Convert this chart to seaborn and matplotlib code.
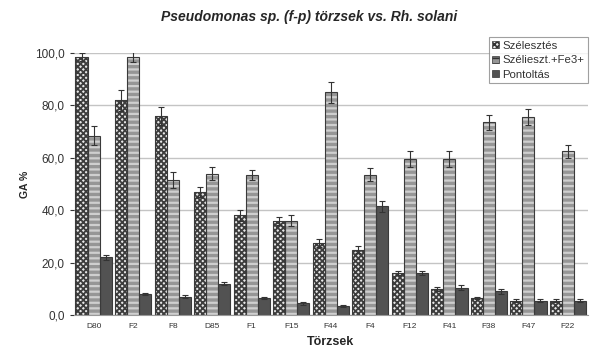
import matplotlib
matplotlib.use("Agg")
import matplotlib.pyplot as plt
from matplotlib.patches import Rectangle
from matplotlib.ticker import FuncFormatter
import seaborn as sns
import pandas as pd
import numpy as np

# Adatok (leolvasva az ábráról)
torzsek = ['D80', 'F2', 'F8', 'D85', 'F1', 'F15', 'F44', 'F4', 'F12', 'F41', 'F38', 'F47', 'F22']
sorozatok = ['Szélesztés', 'Szélieszt.+Fe3+', 'Pontoltás']
szelesztes = [98.5, 82.0, 76.0, 47.0, 38.0, 36.0, 27.5, 25.0, 16.0, 10.0, 6.5, 5.5, 5.5]
szelesztes_fe = [68.5, 98.5, 51.5, 54.0, 53.5, 36.0, 85.0, 53.5, 59.5, 59.5, 73.5, 75.5, 62.5]
pontoltas = [22.0, 8.0, 7.0, 12.0, 6.5, 4.5, 3.5, 41.5, 16.0, 10.5, 9.0, 5.5, 5.5]
hiba_sz = [1.5, 4.0, 3.5, 2.0, 2.0, 1.5, 1.5, 1.5, 0.8, 0.8, 0.5, 0.5, 0.5]
hiba_fe = [3.5, 2.0, 3.0, 2.5, 2.0, 2.0, 4.0, 2.5, 3.0, 3.0, 3.0, 3.0, 2.5]
hiba_po = [1.0, 0.5, 0.5, 0.5, 0.5, 0.5, 0.3, 2.0, 0.8, 0.8, 0.8, 0.5, 0.5]

df = pd.DataFrame({
    'torzs': torzsek * 3,
    'sorozat': np.repeat(sorozatok, len(torzsek)),
    'ertek': szelesztes + szelesztes_fe + pontoltas,
})

sns.set_style("white")
plt.rcParams['font.family'] = ['Liberation Sans', 'DejaVu Sans']
plt.rcParams['hatch.linewidth'] = 1.2

fig = plt.figure(figsize=(5.96, 3.63), dpi=100)
ax = fig.add_axes([0.124, 0.132, 0.862, 0.722])

ax.yaxis.grid(True, color='#c4c4c4', linewidth=1.0)
ax.set_axisbelow(True)

sns.barplot(data=df, x='torzs', y='ertek', hue='sorozat', order=torzsek,
            hue_order=sorozatok, width=0.92, gap=0, errorbar=None, ax=ax,
            palette=['#e8e8e8', '#969696', '#525252'], saturation=1)

# Mintázat és körvonal
stilus = [dict(hatch='xxxxxx', ec='#3c3c3c', lw=1.3),
          dict(hatch='---', ec='#cfcfcf', lw=1.6),
          dict(hatch=None, ec='#333333', lw=1.0)]
oszlopok = list(ax.containers)
for i, cont in enumerate(oszlopok):
    hibak = [hiba_sz, hiba_fe, hiba_po][i]
    for j, p in enumerate(cont.patches):
        p.set_hatch(stilus[i]['hatch'])
        p.set_edgecolor(stilus[i]['ec'])
        p.set_linewidth(0)
        if hasattr(p, 'set_hatch_linewidth'):
            p.set_hatch_linewidth(stilus[i]['lw'])
        ax.add_patch(Rectangle(p.get_xy(), p.get_width(), p.get_height(), fill=False,
                               edgecolor='#3a3a3a', linewidth=0.8, zorder=p.get_zorder() + 0.1))
        ax.errorbar(p.get_x() + p.get_width() / 2, p.get_height(), yerr=hibak[j],
                    color='#333333', capsize=2, elinewidth=0.8, capthick=0.8, zorder=5)

ax.set_xlim(-0.5, 12.5)
ax.set_ylim(0, 100)
ax.set_yticks(np.arange(0, 101, 20))
ax.yaxis.set_major_formatter(FuncFormatter(lambda v, pos: f"{v:.1f}".replace('.', ',')))
ax.tick_params(axis='y', labelsize=8.5, colors='#333333', length=3, left=True)
ax.tick_params(axis='x', labelsize=6, colors='#333333', length=0, pad=6)

for s in ['top', 'right']:
    ax.spines[s].set_visible(False)
ax.spines['left'].set_visible(False)
ax.spines['bottom'].set_color('#999999')

ax.set_xlabel('Törzsek', fontsize=9, fontweight='bold', labelpad=4)
ax.set_ylabel('GA %', fontsize=7.5, fontweight='bold', labelpad=4)

fig.text(0.518, 0.953, 'Pseudomonas sp. (f-p) törzsek vs. Rh. solani',
         ha='center', va='center', fontsize=10, fontweight='bold', fontstyle='italic')

# Jelmagyarázat
handles, labels = ax.get_legend_handles_labels()
leg = ax.legend(handles, labels, loc='upper right', bbox_to_anchor=(1.0, 1.06),
                fontsize=8.2, frameon=True, fancybox=False, handlelength=0.6,
                handleheight=0.6, handletextpad=0.3, borderpad=0.3, labelspacing=0.4,
                borderaxespad=0)
leg.get_frame().set_edgecolor('#888888')
leg.get_frame().set_linewidth(0.8)
for t in leg.get_texts():
    t.set_color('#333333')
for h, st in zip(leg.legend_handles, stilus):
    h.set_hatch(st['hatch'])
    h.set_edgecolor('#333333')
    h.set_linewidth(0.5)

fig.savefig('out.png', dpi=100)
